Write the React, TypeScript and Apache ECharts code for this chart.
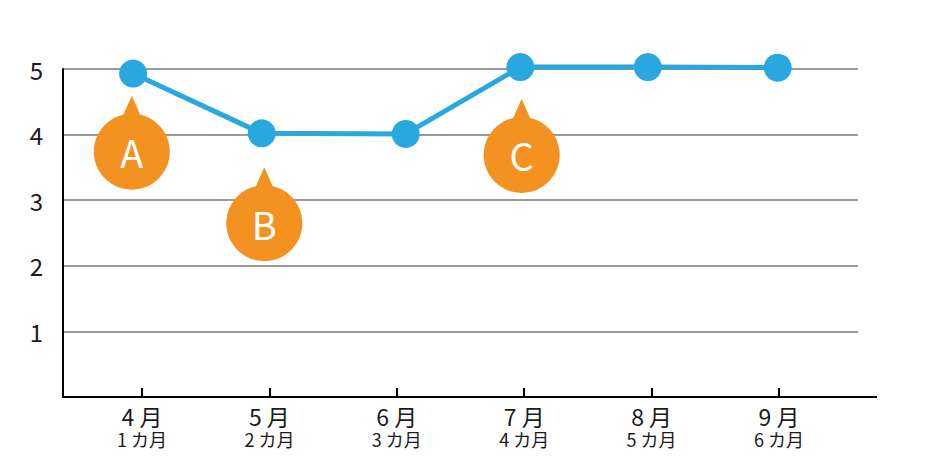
import React, { useEffect, useRef } from "react";
import * as echarts from "echarts";

// Category labels (two lines per tick)
const monthLabels = ["4 月", "5 月", "6 月", "7 月", "8 月", "9 月"];
const durationLabels = ["1 カ月", "2 カ月", "3 カ月", "4 カ月", "5 カ月", "6 カ月"];
const tickIndices = [0, 1, 2, 3, 4, 5];

// Series: horizontal position (in category units) and value of each point
const pointPositions = [-0.07, 0.94, 2.07, 2.97, 3.97, 4.99];
const pointValues = [4.93, 4.02, 4.01, 5.03, 5.03, 5.02];

// Callouts: letter, position (category units) and value of circle centre
const calloutLetters = ["A", "B", "C"];
const calloutPositions = [-0.08, 0.96, 2.98];
const calloutValues = [3.74, 2.65, 3.69];

const yTicks = [0, 1, 2, 3, 4, 5];

const FONT = "'Noto Sans CJK JP', 'Noto Sans', sans-serif";
const BLUE = "#29a8e0";
const ORANGE = "#f39220";

const W = 948;
const H = 468;
const GRID_LEFT = 63;
const GRID_RIGHT_X = 858;
const GRID_TOP = 69;
const GRID_BOTTOM_Y = 397;

const CALLOUT_PATH =
  "path://M38 0 L46.5 19 A38 38 0 1 1 29.5 19 Z";

export default function App() {
  const ref = useRef<HTMLDivElement>(null);

  useEffect(() => {
    if (!ref.current) return;
    const chart = echarts.init(ref.current, null, { renderer: "svg" });

    const lineData = pointPositions.map((p, i) => [p, pointValues[i]]);
    const calloutData = calloutLetters.map((l, i) => ({
      value: [calloutPositions[i], calloutValues[i]],
      name: l,
    }));

    chart.setOption({
      animation: false,
      backgroundColor: "#ffffff",
      grid: {
        left: GRID_LEFT,
        top: GRID_TOP,
        right: W - GRID_RIGHT_X,
        bottom: H - GRID_BOTTOM_Y,
        containLabel: false,
      },
      xAxis: {
        type: "value",
        min: -0.62,
        max: 5.62,
        axisLine: { show: true, onZero: false, lineStyle: { color: "#000", width: 2 } },
        axisTick: {
          show: true,
          inside: true,
          length: 9,
          customValues: tickIndices,
          lineStyle: { color: "#000", width: 2 },
        },
        splitLine: { show: false },
        axisLabel: {
          customValues: tickIndices,
          margin: 6,
          formatter: (v: number) => {
            const i = Math.round(v);
            return `{a|${monthLabels[i]}}\n{b|${durationLabels[i]}}`;
          },
          rich: {
            a: {
              fontFamily: FONT,
              fontSize: 23,
              lineHeight: 25,
              color: "#1a1a1a",
            },
            b: {
              fontFamily: FONT,
              fontSize: 18,
              lineHeight: 21,
              color: "#1a1a1a",
            },
          },
        },
      },
      yAxis: {
        type: "value",
        min: yTicks[0],
        max: yTicks[yTicks.length - 1],
        interval: 1,
        axisLine: { show: true, onZero: false, lineStyle: { color: "#000", width: 2 } },
        axisTick: { show: false },
        axisLabel: {
          margin: 20,
          fontFamily: FONT,
          fontSize: 24,
          color: "#1a1a1a",
          formatter: (v: number) => (v === 0 ? "" : String(v)),
        },
        splitLine: { show: true, lineStyle: { color: "#9a9a9a", width: 2 } },
      },
      graphic: [
        {
          type: "line",
          shape: { x1: GRID_RIGHT_X - 1, y1: GRID_BOTTOM_Y, x2: 877, y2: GRID_BOTTOM_Y },
          style: { stroke: "#000", lineWidth: 2 },
          z: 10,
        },
      ],
      series: [
        {
          type: "line",
          data: lineData,
          clip: false,
          symbol: "circle",
          symbolSize: 28,
          itemStyle: { color: BLUE },
          lineStyle: { color: BLUE, width: 5 },
          z: 3,
        },
        {
          type: "scatter",
          data: calloutData,
          clip: false,
          symbol: CALLOUT_PATH,
          symbolSize: [76, 94],
          symbolOffset: [0, -9],
          itemStyle: { color: ORANGE, opacity: 1 },
          label: {
            show: true,
            position: "inside",
            offset: [0, 9],
            formatter: (p: any) => p.name,
            fontFamily: FONT,
            fontSize: 38,
            color: "#ffffff",
          },
          z: 2,
        },
      ],
    });

    return () => chart.dispose();
  }, []);

  return (
    <div
      ref={ref}
      style={{ position: "fixed", left: 0, top: 0, width: W, height: H }}
    />
  );
}
